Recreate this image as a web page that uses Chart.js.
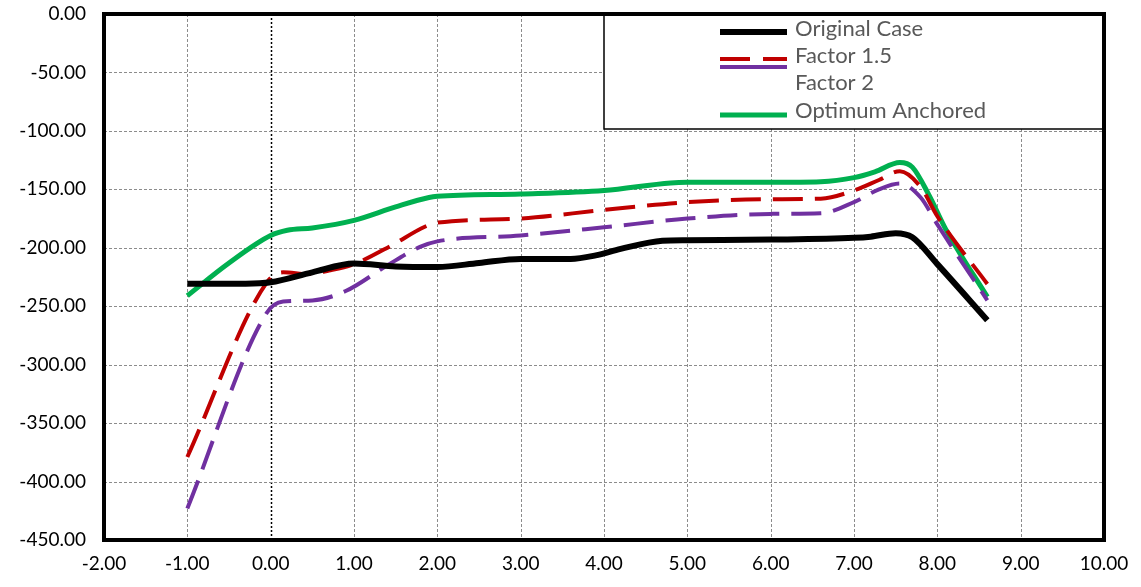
<!DOCTYPE html>
<html>
<head>
<meta charset="utf-8">
<script src="https://cdn.jsdelivr.net/npm/chart.js@4.4.0/dist/chart.umd.min.js"></script>
<style>
  html, body { margin: 0; padding: 0; background: #fff; }
  #wrap { width: 1141px; height: 587px; }
</style>
</head>
<body>
<div id="wrap"><canvas id="chart" width="1141" height="587"></canvas></div>
<script>
// ── Data ──────────────────────────────────────────────────────
const seriesNames = ['Original Case', 'Factor 1.5', 'Factor 2', 'Optimum Anchored'];

const originalX = [-1, -0.3, 0, 0.5, 1, 1.5, 2, 2.5, 3, 3.6, 3.9, 4.2, 4.7, 5, 6, 7, 7.2, 7.5, 7.7, 8, 8.6];
const originalY = [-230.7, -230.7, -229.5, -221, -213.5, -216, -216.5, -213, -209.5, -209.5, -206.5, -201, -194, -193.5, -193, -191.5, -190.5, -187.5, -191, -214, -262];

const factor15X = [-1, -0.05, 0.15, 0.45, 0.7, 1, 1.45, 1.85, 2, 3, 4, 5, 6, 6.6, 7, 7.3, 7.55, 7.8, 8, 8.6];
const factor15Y = [-379, -230, -221, -222.5, -219.5, -214, -198, -182, -178.5, -175, -167.5, -161, -158.5, -158, -151, -142, -134.5, -148, -173, -231];

const factor2X = [-1, -0.05, 0.15, 0.5, 0.9, 1.4, 1.8, 2, 3, 4, 5, 6, 6.6, 7, 7.3, 7.55, 7.8, 8, 8.6];
const factor2Y = [-423, -256, -246, -245, -237, -215, -199, -194.5, -189.5, -182.5, -175, -171, -170.5, -161, -150, -145, -157, -180, -245];

const optimumX = [-1, -0.5, 0, 0.2, 0.5, 1, 1.5, 1.9, 2, 3, 4, 4.8, 5, 6, 6.6, 7, 7.25, 7.55, 7.7, 7.9, 8.1, 8.6];
const optimumY = [-241, -213, -189.5, -185, -183, -176.5, -165, -157, -156, -154, -151, -144.5, -144, -144, -143.5, -140, -135, -127, -131, -155, -184, -242];

const xMin = -2, xMax = 10, xStep = 1;
const yMin = -450, yMax = 0, yStep = 50;

const fontFamily = 'Lato, "Noto Sans", sans-serif';

function points(xs, ys) {
  return xs.map((x, i) => ({ x, y: ys[i] }));
}

// ── Grid, frame and legend box, drawn like the Excel original ─
const frame = {
  id: 'frame',
  beforeDatasetsDraw(chart) {
    const { ctx, chartArea: a, scales: { x, y } } = chart;
    ctx.save();
    ctx.lineWidth = 1;
    for (let v = xMin + xStep; v < xMax; v += xStep) {
      const px = Math.round(x.getPixelForValue(v)) + 0.5;
      if (v === 0) {
        ctx.strokeStyle = '#000';
        ctx.lineWidth = 1.5;
        ctx.setLineDash([2, 2]);
      } else {
        ctx.strokeStyle = '#8c8c8c';
        ctx.lineWidth = 1;
        ctx.setLineDash([3, 2]);
      }
      ctx.beginPath(); ctx.moveTo(px, a.top); ctx.lineTo(px, a.bottom); ctx.stroke();
    }
    ctx.strokeStyle = '#8c8c8c';
    ctx.lineWidth = 1;
    ctx.setLineDash([3, 2]);
    for (let v = yMin + yStep; v < yMax; v += yStep) {
      const py = Math.round(y.getPixelForValue(v)) + 0.5;
      ctx.beginPath(); ctx.moveTo(a.left, py); ctx.lineTo(a.right, py); ctx.stroke();
    }
    ctx.restore();
  },
  afterDatasetsDraw(chart) {
    const { ctx, chartArea: a, scales: { x } } = chart;
    ctx.save();
    // legend box
    const bx = x.getPixelForValue(4);
    const by = a.top, bh = 115;
    ctx.fillStyle = '#fff';
    ctx.fillRect(bx, by, a.right - bx, bh);
    ctx.strokeStyle = '#000';
    ctx.lineWidth = 1.5;
    ctx.strokeRect(bx, by, a.right - bx, bh);

    const textY = [29, 56, 83, 111];
    const symY = [32, 59, 67, 115];
    const symW = [6, 4, 4, 5];
    chart.data.datasets.forEach((ds, i) => {
      ctx.strokeStyle = ds.borderColor;
      ctx.lineWidth = symW[i];
      ctx.setLineDash(i === 1 ? [30, 13] : []);
      ctx.beginPath(); ctx.moveTo(720, symY[i]); ctx.lineTo(787, symY[i]); ctx.stroke();
    });
    ctx.setLineDash([]);
    ctx.fillStyle = '#595959';
    ctx.font = '22px ' + fontFamily;
    ctx.textBaseline = 'middle';
    chart.data.datasets.forEach((ds, i) => ctx.fillText(ds.label, 795, textY[i]));

    // plot frame
    ctx.strokeStyle = '#000';
    ctx.lineWidth = 4;
    ctx.strokeRect(a.left, a.top, a.right - a.left, a.bottom - a.top);
    ctx.restore();
  },
};

const common = { showLine: true, fill: false, pointRadius: 0, cubicInterpolationMode: 'monotone' };

new Chart(document.getElementById('chart'), {
  type: 'scatter',
  data: {
    datasets: [
      { ...common, label: seriesNames[0], data: points(originalX, originalY), borderColor: '#000000', borderWidth: 6 },
      { ...common, label: seriesNames[1], data: points(factor15X, factor15Y), borderColor: '#c00000', borderWidth: 4, borderDash: [30, 12] },
      { ...common, label: seriesNames[2], data: points(factor2X, factor2Y), borderColor: '#7030a0', borderWidth: 4, borderDash: [30, 12] },
      { ...common, label: seriesNames[3], data: points(optimumX, optimumY), borderColor: '#00b050', borderWidth: 5 },
    ],
  },
  options: {
    responsive: false,
    animation: false,
    devicePixelRatio: 1,
    layout: { padding: { left: 0, top: 14, right: 37, bottom: 0 } },
    plugins: { legend: { display: false }, tooltip: { enabled: false } },
    scales: {
      x: {
        type: 'linear', min: xMin, max: xMax,
        grid: { display: false, drawTicks: false },
        border: { display: false },
        ticks: { stepSize: xStep, padding: 12, color: '#000', font: { family: fontFamily, size: 19 }, callback: v => v.toFixed(2) },
        afterFit: s => { s.height = 47; s.paddingLeft = 0; s.paddingRight = 0; },
      },
      y: {
        type: 'linear', min: yMin, max: yMax,
        grid: { display: false, drawTicks: false },
        border: { display: false },
        ticks: { stepSize: yStep, padding: 18, color: '#000', font: { family: fontFamily, size: 19 }, callback: v => v.toFixed(2) },
        afterFit: s => { s.width = 104; s.paddingTop = 0; s.paddingBottom = 0; },
      },
    },
  },
  plugins: [frame],
});
</script>
</body>
</html>
